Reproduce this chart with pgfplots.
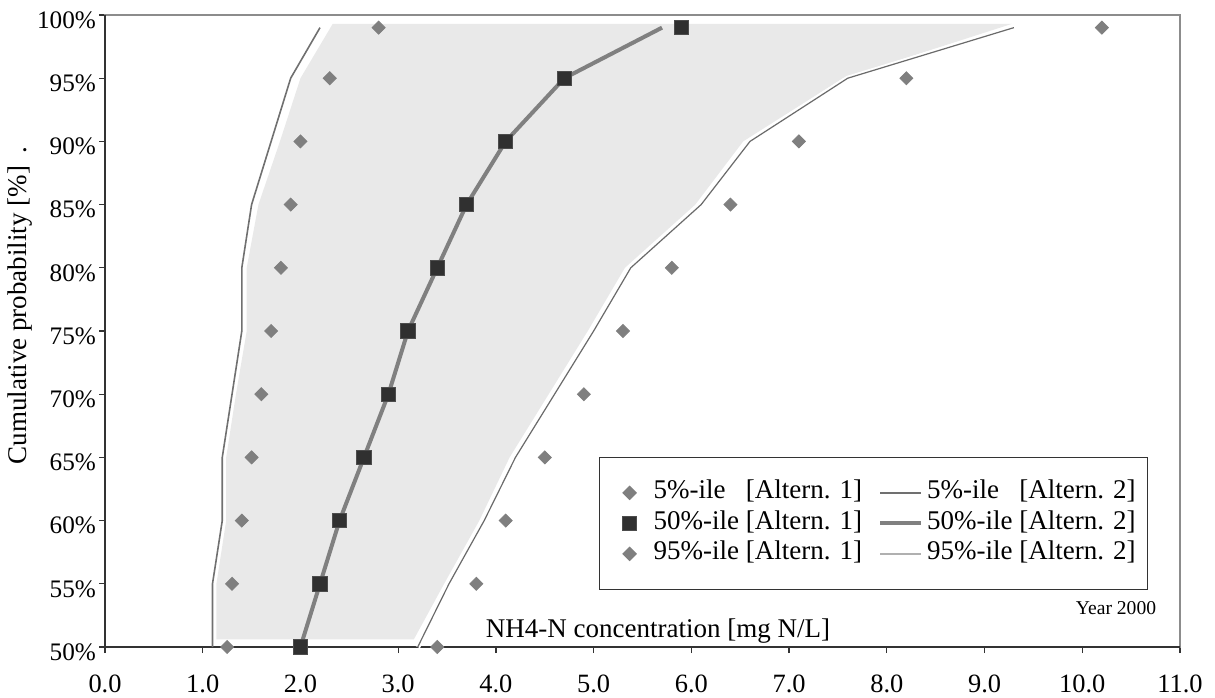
\documentclass[border=0pt]{standalone}
\usepackage{fontspec}
\setmainfont{Liberation Serif}
\usepackage{pgfplots}
\usepackage{pgfplotstable}
\pgfplotsset{compat=1.18}
\definecolor{diam}{HTML}{7F7F7F}
\definecolor{sqc}{HTML}{303030}
\definecolor{fillg}{HTML}{E9E9E9}
\definecolor{lfive}{HTML}{707070}
\definecolor{lfifty}{HTML}{808080}
\definecolor{lninetyfive}{HTML}{6A6A6A}
\definecolor{lninetyfiveleg}{HTML}{B0B0B0}
\pgfplotsset{
  markleg/.style={legend image code/.code={\path[draw=none,fill=none] (0pt,0pt) -- (21pt,0pt); \draw[##1] plot coordinates {(11pt,0pt)};}},
  linleg/.style={legend image code/.code={\path[draw=none,fill=none] (0pt,0pt) -- (21pt,0pt); \draw[##1] (0pt,0pt) -- (20.5pt,0pt);}},
}
\pgfplotstableread{
y  a5   a50  a95  b5  b50  b95
50 1.25 2.0  3.4  1.1 2.0  3.2
55 1.3  2.2  3.8  1.1 2.2  3.52
60 1.4  2.4  4.1  1.2 2.4  3.88
65 1.5  2.65 4.5  1.2 2.65 4.2
70 1.6  2.9  4.9  1.3 2.9  4.6
75 1.7  3.1  5.3  1.4 3.1  5.0
80 1.8  3.4  5.8  1.4 3.4  5.38
85 1.9  3.7  6.4  1.5 3.7  6.1
90 2.0  4.1  7.1  1.7 4.1  6.6
95 2.3  4.7  8.2  1.9 4.7  7.6
99 2.8  5.9  10.2 2.2 5.7  9.3
}\data
\begin{document}
\begin{tikzpicture}
\useasboundingbox (0,0) rectangle (607.5pt,348.5pt);
\begin{axis}[
  at={(52.5pt,25pt)}, anchor=south west,
  scale only axis, width=537.5pt, height=316pt,
  xmin=0, xmax=11, ymin=50, ymax=100,
  xtick={0,1,...,11},
  xticklabels={0.0,1.0,2.0,3.0,4.0,5.0,6.0,7.0,8.0,9.0,10.0,11.0},
  ytick={50,55,...,100},
  yticklabels={50\%,55\%,60\%,65\%,70\%,75\%,80\%,85\%,90\%,95\%,100\%},
  tick align=outside, xtick pos=left, ytick pos=left,
  major tick length=3pt,
  tick style={draw=black!80, line width=0.6pt},
  axis line style={draw=black!45, line width=0.7pt},
  xticklabel style={font=\fontsize{13.2}{15}\selectfont, inner ysep=1pt, yshift=-9.9pt},
  yticklabel style={font=\fontsize{12.6}{15}\selectfont, yshift=-2.5pt, xshift=2pt},
  clip=false,
  legend columns=2,
  legend cell align=left,
  legend style={at={(rel axis cs:0.4595,0.3006)}, anchor=north west,
    draw=black!80, line width=0.6pt, fill=white,
    font=\fontsize{13.5}{15.25}\selectfont,
    inner xsep=4pt, inner ysep=10pt,
    nodes={inner xsep=2pt, inner ysep=1pt, text height=9.5pt, text depth=3.75pt},
    /tikz/every even column/.append style={column sep=6pt}},
]
\addplot[fill=fillg, draw=none, forget plot] coordinates {(1.14,50.6) (1.14,55) (1.24,60) (1.24,65) (1.34,70) (1.45,75) (1.45,80) (1.57,85) (1.79,90) (2.0,95) (2.33,99.3) (9.28,99.3) (7.55,95) (6.53,90) (6.04,85) (5.32,80) (4.94,75) (4.54,70) (4.14,65) (3.83,60) (3.47,55) (3.16,50.6)} -- cycle;
\draw[black!80, line width=0.9pt] (rel axis cs:0,1) -- (rel axis cs:0,0) -- (rel axis cs:1,0);
\addplot[white, line width=2.5pt, forget plot] table[x=b95, y=y] {\data};
\addplot[lninetyfive, line width=0.6pt, forget plot] table[x=b95, y=y] {\data};
\addplot[lfive, line width=0.8pt, forget plot] table[x=b5, y=y] {\data};
\addplot[lfifty, line width=2pt, forget plot] table[x=b50, y=y] {\data};
\addplot[only marks, mark=square*, mark size=2.3pt, mark options={rotate=45, draw=diam, fill=diam}, forget plot] table[x=a5, y=y] {\data};
\addplot[only marks, mark=square*, mark size=2.3pt, mark options={rotate=45, draw=diam, fill=diam}, forget plot] table[x=a95, y=y] {\data};
\addplot[only marks, mark=square*, mark size=3.6pt, mark options={draw=black!70, fill=sqc, line width=0.4pt}, forget plot] table[x=a50, y=y] {\data};
\node[rotate=90, anchor=base, font=\fontsize{13.5}{15}\selectfont] at (rel axis cs:-0.0726,0.540) {Cumulative probability [\%]\hspace{6pt}.};
\node[anchor=base, font=\fontsize{13.5}{15}\selectfont] at (rel axis cs:0.5144,0.0158) {NH4-N concentration [mg N/L]};
\node[anchor=base, font=\fontsize{9.8}{11}\selectfont] at (rel axis cs:0.9405,0.052) {Year 2000};
\addlegendimage{only marks, mark=square*, mark size=2.3pt, mark options={rotate=45, draw=diam, fill=diam}, markleg}
\addlegendentry{\makebox[3.42em][l]{5\%-ile}[Altern. 1]}
\addlegendimage{lfive, line width=0.8pt, linleg}
\addlegendentry{\makebox[3.42em][l]{5\%-ile}[Altern. 2]\hspace{3.5pt}}
\addlegendimage{only marks, mark=square*, mark size=3.6pt, mark options={draw=black!70, fill=sqc, line width=0.4pt}, markleg}
\addlegendentry{\makebox[3.42em][l]{50\%-ile}[Altern. 1]}
\addlegendimage{lfifty, line width=2pt, linleg}
\addlegendentry{\makebox[3.42em][l]{50\%-ile}[Altern. 2]\hspace{3.5pt}}
\addlegendimage{only marks, mark=square*, mark size=2.3pt, mark options={rotate=45, draw=diam, fill=diam}, markleg}
\addlegendentry{\makebox[3.42em][l]{95\%-ile}[Altern. 1]}
\addlegendimage{lninetyfiveleg, line width=0.8pt, linleg}
\addlegendentry{\makebox[3.42em][l]{95\%-ile}[Altern. 2]\hspace{3.5pt}}
\end{axis}
\end{tikzpicture}
\end{document}
